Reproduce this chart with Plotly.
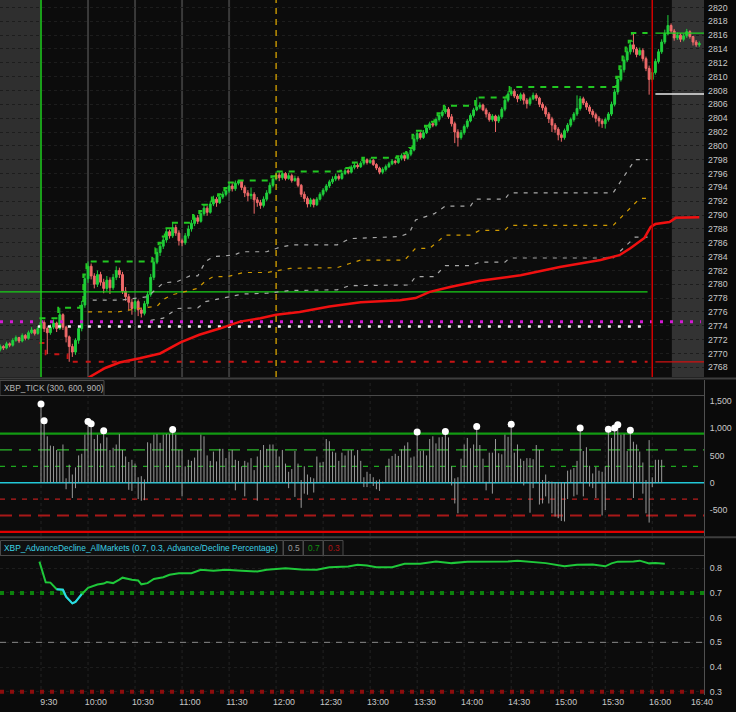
import plotly.graph_objects as go

# ---------------- canvas geometry ----------------
W, HT = 736, 712
PB = 17                      # bottom margin (time labels)
PH = HT - PB                 # plot-area height in px
XR = 704                     # right edge of plotting area (px)
OPEN_PX = 41.0               # pixel of 9:30
PX_PER_MIN = 47.02 / 30.0

def fx(p):
    return p / W

def fy(p):
    return (PH - p) / PH

X0 = (0 - OPEN_PX) / PX_PER_MIN
X1 = (XR - OPEN_PX) / PX_PER_MIN

# ---------------- data ----------------
# 2-minute bars, index 0 = 9:30 bar (negative = pre-market)
bar_i = list(range(-13, 211))

O = [2770.6, 2771.0, 2770.8, 2771.4, 2771.2, 2771.9, 2772.3, 2771.8, 2772.6, 2772.2, 2773.0, 2773.4, 2772.9,
     2773.6, 2774.5, 2773.6, 2773.0, 2773.8, 2774.4, 2773.6, 2775.6, 2773.8, 2772.4,
     2771.0, 2770.2, 2771.9, 2773.6, 2777.0, 2780.8, 2782.6, 2781.2, 2780.0, 2781.4,
     2780.3, 2779.4, 2780.6, 2779.5, 2781.0, 2782.0, 2781.4, 2779.0, 2778.2, 2777.4,
     2776.5, 2777.5, 2776.3, 2775.8, 2777.2, 2778.5, 2781.0, 2783.2, 2784.6, 2785.5,
     2786.4, 2787.6, 2787.0, 2788.2, 2787.4, 2786.3, 2786.0, 2787.0, 2788.0, 2788.8,
     2789.6, 2789.1, 2790.2, 2791.0, 2790.4, 2791.6, 2792.3, 2791.8, 2792.6, 2793.0,
     2793.5, 2794.2, 2793.8, 2794.6, 2794.9, 2794.0, 2793.2, 2792.8, 2793.0, 2792.2,
     2791.8, 2791.4, 2792.3, 2793.2, 2794.3, 2795.2, 2795.8, 2795.4, 2796.0, 2795.3,
     2795.7, 2795.0, 2795.3, 2794.3, 2793.0, 2792.4, 2791.6, 2792.2, 2791.5, 2792.3,
     2793.0, 2793.6, 2794.2, 2794.8, 2795.2, 2795.6, 2795.3, 2796.0, 2796.4, 2796.2,
     2796.9, 2797.2, 2797.0, 2797.5, 2798.0, 2797.6, 2797.9, 2797.3, 2796.8, 2796.2,
     2796.6, 2797.0, 2797.4, 2797.8, 2797.6, 2798.2, 2798.6, 2798.2, 2798.8, 2799.4,
     2801.0, 2801.8, 2801.2, 2801.9, 2802.6, 2803.2, 2803.0, 2803.8, 2804.4, 2804.9,
     2805.3, 2804.2, 2803.2, 2802.0, 2801.2, 2801.9, 2802.8, 2803.6, 2804.4, 2805.2,
     2805.6, 2805.9, 2805.2, 2804.6, 2803.8, 2804.3, 2803.6, 2804.2, 2805.3, 2806.6,
     2807.5, 2807.9, 2807.2, 2806.8, 2807.4, 2806.6, 2806.1, 2806.8, 2807.3, 2806.9,
     2806.0, 2805.5, 2804.6, 2803.9, 2803.0, 2802.4, 2801.6, 2801.2, 2802.2, 2803.0,
     2803.8, 2804.6, 2805.4, 2806.8, 2806.2, 2805.6, 2805.0, 2804.5, 2804.0, 2803.6,
     2803.2, 2803.8, 2804.6, 2806.0, 2807.8, 2809.6, 2811.0, 2812.4, 2813.6, 2814.6,
     2814.0, 2813.2, 2813.8, 2812.6, 2811.2, 2809.6, 2810.6, 2812.2, 2813.6, 2815.0,
     2816.2, 2817.4, 2816.6, 2815.6, 2816.0, 2815.4, 2815.9, 2816.5, 2815.8, 2815.0, 2814.6]

H = [2771.3, 2771.2, 2771.7, 2771.6, 2772.2, 2772.6, 2772.4, 2772.9, 2772.8, 2773.3, 2773.8, 2773.5, 2774.0,
     2775.1, 2774.8, 2773.9, 2774.2, 2774.9, 2774.6, 2776.6, 2775.8, 2774.0, 2772.6,
     2771.4, 2772.2, 2774.0, 2777.6, 2781.4, 2783.3, 2783.0, 2781.6, 2782.0, 2781.8,
     2780.8, 2781.2, 2781.0, 2781.5, 2782.6, 2782.4, 2781.8, 2779.6, 2778.6, 2777.9,
     2778.0, 2777.8, 2776.6, 2777.6, 2779.0, 2781.5, 2783.8, 2785.2, 2786.0, 2786.9,
     2788.1, 2787.9, 2788.9, 2788.6, 2787.8, 2786.6, 2787.4, 2788.5, 2789.3, 2790.0,
     2790.0, 2790.6, 2791.5, 2791.3, 2792.0, 2792.8, 2792.6, 2793.0, 2793.4, 2793.9,
     2794.7, 2794.6, 2795.0, 2795.0, 2794.9, 2794.3, 2793.6, 2794.0, 2793.3, 2792.6,
     2792.2, 2792.7, 2793.6, 2794.7, 2795.6, 2796.3, 2796.2, 2796.2, 2796.2, 2796.1,
     2796.0, 2795.7, 2795.6, 2794.5, 2793.4, 2792.7, 2792.5, 2792.4, 2792.6, 2793.3,
     2793.9, 2794.5, 2795.1, 2795.6, 2796.0, 2795.9, 2796.4, 2796.8, 2796.7, 2797.2,
     2797.6, 2797.5, 2797.8, 2798.3, 2798.2, 2798.2, 2798.1, 2797.5, 2797.0, 2796.9,
     2797.3, 2797.7, 2798.1, 2798.0, 2798.5, 2798.9, 2798.8, 2799.1, 2799.7, 2801.6,
     2802.2, 2802.1, 2802.3, 2802.9, 2803.5, 2803.5, 2804.1, 2804.7, 2805.2, 2805.8,
     2805.6, 2804.6, 2803.5, 2802.4, 2802.3, 2803.1, 2803.9, 2804.7, 2805.5, 2807.0,
     2806.3, 2806.1, 2805.5, 2804.9, 2804.6, 2804.5, 2804.5, 2805.6, 2806.9, 2807.9,
     2808.5, 2808.2, 2807.5, 2807.7, 2807.7, 2806.9, 2807.1, 2807.7, 2807.6, 2807.1,
     2806.3, 2805.8, 2804.9, 2804.2, 2803.3, 2802.7, 2801.9, 2802.5, 2803.3, 2804.1,
     2804.9, 2807.3, 2807.2, 2807.1, 2806.5, 2805.9, 2805.3, 2804.8, 2804.3, 2803.9,
     2804.1, 2804.9, 2806.4, 2808.2, 2810.0, 2811.5, 2812.9, 2814.2, 2815.2, 2816.3,
     2814.3, 2814.2, 2814.1, 2812.9, 2811.6, 2811.0, 2812.6, 2814.0, 2815.4, 2816.8,
     2818.9, 2817.7, 2816.9, 2816.4, 2816.3, 2816.2, 2816.9, 2816.7, 2815.9, 2815.3, 2815.1]

L = [2770.3, 2770.5, 2770.6, 2770.9, 2771.0, 2771.7, 2771.5, 2771.6, 2771.9, 2772.0, 2772.8, 2772.6, 2772.7,
     2771.5, 2773.1, 2769.9, 2772.7, 2773.5, 2773.1, 2773.4, 2773.4, 2771.6, 2768.8,
     2769.5, 2769.8, 2771.4, 2773.2, 2776.6, 2780.2, 2780.7, 2779.4, 2779.6, 2779.8,
     2778.7, 2779.0, 2778.6, 2779.2, 2780.6, 2780.9, 2778.6, 2777.6, 2776.2, 2775.6,
     2776.0, 2775.4, 2775.2, 2775.5, 2776.8, 2778.2, 2780.6, 2782.9, 2784.1, 2785.1,
     2786.0, 2786.6, 2786.7, 2787.0, 2785.6, 2785.5, 2785.7, 2786.6, 2787.6, 2788.4,
     2788.7, 2788.9, 2789.9, 2789.9, 2790.2, 2791.3, 2791.2, 2791.6, 2792.3, 2792.7,
     2793.2, 2793.4, 2793.5, 2794.3, 2793.6, 2792.6, 2792.0, 2792.3, 2790.2, 2791.2,
     2790.9, 2791.1, 2792.0, 2793.0, 2794.0, 2795.0, 2794.9, 2795.1, 2795.0, 2795.1,
     2794.7, 2794.8, 2794.0, 2792.6, 2791.9, 2791.1, 2791.2, 2791.1, 2791.3, 2792.1,
     2792.7, 2793.3, 2793.9, 2794.5, 2794.9, 2795.0, 2795.1, 2795.8, 2795.9, 2796.0,
     2796.6, 2796.7, 2796.8, 2797.2, 2797.3, 2797.4, 2797.1, 2796.5, 2795.9, 2795.9,
     2796.3, 2796.8, 2797.2, 2797.3, 2797.4, 2797.9, 2797.8, 2798.0, 2798.5, 2799.2,
     2800.6, 2800.9, 2801.0, 2801.7, 2802.3, 2802.7, 2802.8, 2803.5, 2804.1, 2804.6,
     2803.9, 2802.8, 2800.4, 2799.9, 2800.9, 2801.6, 2802.5, 2803.4, 2804.1, 2805.0,
     2805.3, 2805.0, 2804.1, 2803.5, 2803.5, 2802.0, 2803.3, 2803.9, 2805.0, 2806.3,
     2807.2, 2806.9, 2806.3, 2806.5, 2806.0, 2805.4, 2805.8, 2806.6, 2806.5, 2805.6,
     2805.1, 2804.2, 2803.3, 2802.0, 2801.9, 2800.8, 2800.6, 2800.9, 2801.9, 2802.7,
     2803.5, 2804.3, 2805.1, 2805.9, 2805.2, 2804.6, 2804.1, 2803.4, 2802.8, 2802.6,
     2802.5, 2803.5, 2804.3, 2805.7, 2807.4, 2809.3, 2810.6, 2812.1, 2813.2, 2813.5,
     2812.8, 2813.0, 2812.2, 2810.8, 2807.4, 2809.2, 2810.3, 2811.9, 2813.3, 2814.7,
     2816.0, 2816.3, 2815.2, 2815.3, 2815.0, 2815.1, 2815.6, 2815.5, 2814.5, 2814.3, 2814.3]

C = [2771.0, 2770.8, 2771.4, 2771.2, 2771.9, 2772.3, 2771.8, 2772.6, 2772.2, 2773.0, 2773.4, 2772.9, 2773.6,
     2774.5, 2773.6, 2773.0, 2773.8, 2774.4, 2773.6, 2775.6, 2773.8, 2772.4, 2771.0,
     2770.2, 2771.9, 2773.6, 2777.0, 2780.8, 2782.6, 2781.2, 2780.0, 2781.4, 2780.3,
     2779.4, 2780.6, 2779.5, 2781.0, 2782.0, 2781.4, 2779.0, 2778.2, 2777.4, 2776.5,
     2777.5, 2776.3, 2775.8, 2777.2, 2778.5, 2781.0, 2783.2, 2784.6, 2785.5, 2786.4,
     2787.6, 2787.0, 2788.2, 2787.4, 2786.3, 2786.0, 2787.0, 2788.0, 2788.8, 2789.6,
     2789.1, 2790.2, 2791.0, 2790.4, 2791.6, 2792.3, 2791.8, 2792.6, 2793.0, 2793.5,
     2794.2, 2793.8, 2794.6, 2794.9, 2794.0, 2793.2, 2792.8, 2793.0, 2792.2, 2791.8,
     2791.4, 2792.3, 2793.2, 2794.3, 2795.2, 2795.8, 2795.4, 2796.0, 2795.3, 2795.7,
     2795.0, 2795.3, 2794.3, 2793.0, 2792.4, 2791.6, 2792.2, 2791.5, 2792.3, 2793.0,
     2793.6, 2794.2, 2794.8, 2795.2, 2795.6, 2795.3, 2796.0, 2796.4, 2796.2, 2796.9,
     2797.2, 2797.0, 2797.5, 2798.0, 2797.6, 2797.9, 2797.3, 2796.8, 2796.2, 2796.6,
     2797.0, 2797.4, 2797.8, 2797.6, 2798.2, 2798.6, 2798.2, 2798.8, 2799.4, 2801.0,
     2801.8, 2801.2, 2801.9, 2802.6, 2803.2, 2803.0, 2803.8, 2804.4, 2804.9, 2805.3,
     2804.2, 2803.2, 2802.0, 2801.2, 2801.9, 2802.8, 2803.6, 2804.4, 2805.2, 2805.6,
     2805.9, 2805.2, 2804.6, 2803.8, 2804.3, 2803.6, 2804.2, 2805.3, 2806.6, 2807.5,
     2807.9, 2807.2, 2806.8, 2807.4, 2806.6, 2806.1, 2806.8, 2807.3, 2806.9, 2806.0,
     2805.5, 2804.6, 2803.9, 2803.0, 2802.4, 2801.6, 2801.2, 2802.2, 2803.0, 2803.8,
     2804.6, 2805.4, 2806.8, 2806.2, 2805.6, 2805.0, 2804.5, 2804.0, 2803.6, 2803.2,
     2803.8, 2804.6, 2806.0, 2807.8, 2809.6, 2811.0, 2812.4, 2813.6, 2814.6, 2814.0,
     2813.2, 2813.8, 2812.6, 2811.2, 2809.6, 2810.6, 2812.2, 2813.6, 2815.0, 2816.2,
     2817.4, 2816.6, 2815.6, 2816.0, 2815.4, 2815.9, 2816.5, 2815.8, 2815.0, 2814.6, 2814.8]

# VWAP (minutes after 9:30, price)
vwap_t = [28, 31, 41, 50, 63, 76, 89, 101, 114, 127, 140, 150, 165, 184, 204, 229, 239, 248, 261,
          280, 306, 331, 357, 369, 376, 385, 389, 392, 401, 405, 420]
vwap_v = [2766.0, 2766.6, 2767.9, 2768.7, 2769.3, 2770.0, 2771.6, 2772.7, 2773.6, 2774.6, 2775.1,
          2775.6, 2776.0, 2776.8, 2777.4, 2777.7, 2778.0, 2778.9, 2779.6, 2780.5, 2781.3, 2782.5,
          2783.5, 2784.2, 2785.2, 2786.7, 2788.3, 2788.7, 2789.0, 2789.6, 2789.7]

# VWAP deviation bands (step breakpoints)
band_up_t = [33, 50, 68, 78, 87, 95, 100, 105, 110, 123, 128, 144, 153, 161, 189, 197, 229, 235, 239,
             245, 251, 258, 274, 277, 296, 299, 365, 379, 387]
band_up_v = [2777.7, 2777.7, 2778.2, 2780.2, 2780.4, 2781.2, 2781.2, 2783.3, 2784.0, 2784.2, 2784.7,
             2784.7, 2785.4, 2785.7, 2785.7, 2786.6, 2786.9, 2787.4, 2789.3, 2789.8, 2790.2, 2791.3,
             2791.3, 2792.3, 2792.3, 2793.2, 2793.2, 2798.0, 2798.0]
band_mid_t = [30, 49, 65, 74, 78, 84, 100, 105, 110, 119, 129, 144, 159, 189, 197, 204, 232, 239, 248,
              258, 274, 280, 296, 299, 365, 382, 387]
band_mid_v = [2776.0, 2776.0, 2776.6, 2776.8, 2777.8, 2778.5, 2779.4, 2780.5, 2781.1, 2781.1, 2781.7,
              2781.7, 2782.3, 2782.4, 2783.0, 2783.5, 2783.5, 2785.2, 2785.2, 2787.1, 2787.1, 2787.8,
              2787.8, 2788.5, 2788.5, 2792.4, 2792.4]
band_lo_t = [70, 78, 87, 100, 105, 119, 129, 144, 159, 189, 197, 235, 239, 251, 258, 274, 280, 296, 299,
             365, 379, 387]
band_lo_v = [2774.8, 2775.1, 2776.5, 2776.6, 2777.5, 2778.2, 2778.6, 2778.7, 2779.1, 2779.2, 2779.8,
             2779.9, 2781.1, 2781.1, 2782.7, 2782.7, 2783.2, 2783.2, 2783.8, 2783.8, 2786.8, 2786.8]

# reference levels
level_green = 2778.9
level_magenta = 2774.6
level_white = 2773.9
post_white = 2807.5
last_rth_bar = 193

# NYSE TICK per 2-min bar (high, low)
tick_hi = [1440, 1135, 850, 680, 670, 600, 570, 700, 80, 330,
           150, 280, 500, 530, 880, 1120, 1080, 800, 880, 720,
           950, 830, 600, 640, 700, 890, 600, 480, 380, 420,
           350, 100, 120, 60, 740, 720, 880, 890, 730, 880,
           890, 890, 975, 880, 600, 600, 300, 420, 400, 460,
           600, 880, 850, 500, 400, 570, 390, 620, 620, 450,
           570, 600, 420, 400, 300, 400, 370, 450, 230, 480,
           600, 690, 620, 700, 700, 600, 480, 600, 350, 200,
           250, 580, 350, 50, 300, 150, 100, 80, 480, 370,
           380, 800, 760, 570, 550, 400, 550, 500, 590, 600,
           500, 600, 400, 100,
           200, 160, 100, 40, 60, 20, 300, 440, 490, 530,
           490, 610, 680, 740, 460, 480, 930, 580, 590, 500,
           800, 850, 720, 830, 840, 940, 830, 300, 80, 100,
           440, 700, 820, 630, 700, 1030, 690, 440, 20, 550,
           550, 800, 540, 520, 880, 840, 1070, 550, 700, 440,
           400, 450, 450, 430, 690, 600, 50, 150, 30, 20,
           10, 10, 10, 10, 220, 240, 270, 400, 1000, 580,
           650, 310, 170, 290, 220, 200, 300, 980, 820, 1000,
           1060, 880, 890, 580, 960, 750, 700, 570, 370, 50,
           780, 100, 420, 420, 420]
tick_lo = [0, 0, 0, 0, 0, 0, 0, 0, -120, 0,
           -280, -100, 0, 0, 0, 0, 0, 0, 0, 0,
           0, 0, 0, 0, 0, 0, 0, 0, -130, -150,
           0, -300, -330, -320, 0, 0, 0, 0, 0, 0,
           0, 0, 0, 0, 0, -250, 0, 0, 0, 0,
           0, 0, 0, 0, 0, 0, 0, 0, 0, 0,
           0, 0, -140, 0, 0, -250, 0, 0, 0, -330,
           0, 0, 0, 0, 0, 0, 0, 0, 0, -100,
           0, -260, 0, -460, -200, -220, 0, -180, 0, 0,
           0, 0, 0, 0, 0, 0, 0, 0, 0, 0,
           0, 0, 0, -80,
           -80, 0, -60, -120, -150, -10, 0, 0, 0, 0,
           0, 0, 0, 0, 0, 0, 0, 0, 0, 0,
           0, 0, 0, 0, 0, 0, 0, -50, -380, -560,
           0, 0, 0, 0, 0, 0, 0, 0, -140, 0,
           -200, 0, 0, 0, 0, 0, 0, 0, 0, 0,
           -50, 0, -550, -100, 0, -400, -380, -250, -380, -560,
           -620, -650, -700, -710, -300, 0, -250, -220, 0, -250,
           0, -70, -100, -280, 0, -600, -500, 0, 0, 0,
           0, 0, 0, 0, 0, -280, 0, 0, -200, -560,
           -730, -80, 0, 0, 0]
tick_levels = [900, 600, 300, 0, -300, -600, -900]
tick_extreme = 900

# Advance / Decline percentage (minutes after 9:30)
ad_t = [-1, 3, 6, 10, 14, 16, 20, 22, 26, 30, 36, 40, 42, 46, 50, 52, 58, 62, 64, 68,
        72, 78, 82, 88, 96, 102, 110, 118, 128, 138, 144, 156, 166, 176, 184, 196, 202, 208, 214, 224,
        232, 242, 252, 262, 272, 288, 298, 304, 312, 322, 334, 342, 352, 360, 364, 368, 378, 382, 388, 392,
        398]
ad_v = [0.827, 0.743, 0.742, 0.715, 0.713, 0.685, 0.658, 0.664, 0.695, 0.721,
        0.734, 0.738, 0.744, 0.740, 0.754, 0.762, 0.754, 0.751, 0.735, 0.740,
        0.757, 0.764, 0.774, 0.780, 0.780, 0.794, 0.790, 0.794, 0.790, 0.787,
        0.794, 0.800, 0.795, 0.794, 0.804, 0.807, 0.814, 0.811, 0.804, 0.804,
        0.818, 0.818, 0.828, 0.821, 0.827, 0.827, 0.828, 0.831, 0.827, 0.821,
        0.808, 0.814, 0.815, 0.808, 0.820, 0.827, 0.828, 0.831, 0.820, 0.821,
        0.818]
ad_levels = [0.7, 0.5, 0.3]
ad_cyan_below = 0.72

time_labels = ["9:30", "10:00", "10:30", "11:00", "11:30", "12:00", "12:30", "13:00",
               "13:30", "14:00", "14:30", "15:00", "15:30", "16:00", "16:40"]
price_ticks = list(range(2768, 2821, 2))
tick_axis_vals = [-500, 0, 500, 1000, 1500]
tick_axis_text = ["-500", "0", "500", "1,000", "1,500"]
ad_axis_vals = [0.3, 0.4, 0.5, 0.6, 0.7, 0.8]

# ---------------- colours ----------------
BG = "#0c0c0c"
UP = "#1fd03c"
DN = "#f06a6a"
LBL = "#c8c8c8"
FONT = "Liberation Sans"
AXF = 8.8
HDF = 8.4

def tmin(label):
    h, m = label.split(":")
    return int(h) * 60 + int(m) - 570

bar_t = [2 * i for i in bar_i]

fig = go.Figure()

# ---------------- price panel ----------------
fig.add_trace(go.Candlestick(
    x=bar_t, open=O, high=H, low=L, close=C, xaxis="x", yaxis="y",
    increasing=dict(line=dict(color=UP, width=1), fillcolor=UP),
    decreasing=dict(line=dict(color=DN, width=1), fillcolor=DN),
    whiskerwidth=0, showlegend=False, hoverinfo="skip"))

def pline(x, y, color, width, dash="solid", shape="linear", ax="x", ay="y"):
    fig.add_trace(go.Scatter(x=x, y=y, mode="lines", xaxis=ax, yaxis=ay,
                             line=dict(color=color, width=width, dash=dash, shape=shape),
                             showlegend=False, hoverinfo="skip"))

end_rth = 2 * last_rth_bar + 1
pline([X0, end_rth], [level_green] * 2, "#19d019", 1.3)
pline([X0, X1 - 2], [level_magenta] * 2, "#d419d4", 3, "3px,7px")
pline([-2, end_rth], [level_white] * 2, "#f2f2f2", 2.5, "3px,7px")

pline(band_up_t, band_up_v, "#a8a8a8", 1.2, "4px,6px")
pline(band_mid_t, band_mid_v, "#d09a00", 1.2, "4px,6px")
pline(band_lo_t, band_lo_v, "#a8a8a8", 1.2, "4px,6px")
pline(vwap_t, vwap_v, "#f01010", 2.5)

# running high / low of the regular session
rth = [k for k, i in enumerate(bar_i) if 0 <= i <= last_rth_bar]
hod, lod, hx = [], [], []
for k in rth:
    hod.append(H[k] if not hod else max(hod[-1], H[k]))
    lod.append(L[k] if not lod else min(lod[-1], L[k]))
    hx.append(bar_t[k] - 1)
hx.append(end_rth)
hod.append(hod[-1])
lod.append(lod[-1])
pline(hx, hod, "#22c822", 2, "6px,6px", "hv")
pline(hx, lod, "#c81414", 2, "5px,8px", "hv")

post_x = [392, X1]
pline(post_x, [hod[-1]] * 2, "#22d022", 1.2)
pline(post_x, [post_white] * 2, "#e8e8e8", 1.5)
pline(post_x, [lod[-1]] * 2, "#d01010", 1.2)

# ---------------- tick panel ----------------
for lv in tick_levels:
    if lv > 0:
        col = "#129a12" if lv == 900 else ("#2ab82a" if lv == 600 else "#1ea81e")
    elif lv == 0:
        col = "#22c8d8"
    else:
        col = "#e00000" if lv == -900 else ("#a81818" if lv == -600 else "#b81c1c")
    dash = "solid" if abs(lv) in (900, 0) else ("12px,7px" if abs(lv) == 600 else "5px,6px")
    wid = 2.2 if abs(lv) == 900 else (1.6 if lv == 0 else (2 if lv == -600 else 1.3))
    pline([X0, X1], [lv, lv], col, wid, dash, ax="x2", ay="y2")

tx, ty = [], []
for i, (hi, lo) in enumerate(zip(tick_hi, tick_lo)):
    t = 2 * i
    tx += [t, t, None]
    ty += [min(lo, 0), max(hi, 0), None]
fig.add_trace(go.Scatter(x=tx, y=ty, mode="lines", xaxis="x2", yaxis="y2",
                         line=dict(color="#9a9a9a", width=1), showlegend=False, hoverinfo="skip"))
dx = [2 * i for i, hi in enumerate(tick_hi) if hi > tick_extreme]
dy = [hi for hi in tick_hi if hi > tick_extreme]
fig.add_trace(go.Scatter(x=dx, y=dy, mode="markers", xaxis="x2", yaxis="y2",
                         marker=dict(color="#ffffff", size=7, line=dict(width=0)),
                         showlegend=False, hoverinfo="skip"))

# ---------------- A/D panel ----------------
pline([X0, X1], [ad_levels[0]] * 2, "#0c820c", 4, "4px,6px", ax="x3", ay="y3")
pline([X0, X1], [ad_levels[1]] * 2, "#8a8a8a", 1, "6px,6px", ax="x3", ay="y3")
pline([X0, X1], [ad_levels[2]] * 2, "#8c0c0c", 4, "4px,6px", ax="x3", ay="y3")
pline(ad_t, ad_v, "#1fc83a", 2, ax="x3", ay="y3")
cy = [v if v < ad_cyan_below else None for v in ad_v]
pline(ad_t, cy, "#2ad6ea", 2, ax="x3", ay="y3")

# ---------------- axes ----------------
tick_pos = [min(tmin(s) + 5, X1 - 1.3) for s in time_labels]
xcommon = dict(range=[X0, X1], domain=[0, fx(XR)], showgrid=False, zeroline=False,
               showticklabels=False, ticks="", fixedrange=True)
ycommon = dict(side="right", showgrid=True, gridcolor="#1d1d1d", griddash="dot", gridwidth=1,
               zeroline=False, ticks="", tickfont=dict(family=FONT, size=AXF, color=LBL),
               ticklabelstandoff=3, fixedrange=True)

layout = dict(
    width=W, height=HT, margin=dict(l=0, r=0, t=0, b=PB, autoexpand=False),
    paper_bgcolor="#0a0a0a", plot_bgcolor=BG, showlegend=False, boxgap=0.15,
    font=dict(family=FONT, size=AXF, color=LBL),
    xaxis=dict(xcommon, anchor="y", rangeslider=dict(visible=False)),
    xaxis2=dict(xcommon, anchor="y2", matches="x"),
    xaxis3=dict(xcommon, anchor="y3", matches="x", showticklabels=True,
                tickvals=tick_pos, ticktext=time_labels,
                tickfont=dict(family=FONT, size=AXF, color=LBL)),
    yaxis=dict(ycommon, domain=[fy(377), 1], range=[2766.6, 2821.08], anchor="x",
               tickvals=price_ticks, ticktext=[str(v) for v in price_ticks]),
    yaxis2=dict(ycommon, domain=[fy(536), fy(380)], range=[-976, 1881], anchor="x2",
                tickvals=tick_axis_vals, ticktext=tick_axis_text, showgrid=False,
                showline=True, linecolor="#505050", linewidth=1),
    yaxis3=dict(ycommon, domain=[0, fy(538)], range=[0.2866, 0.9228], anchor="x3",
                tickvals=ad_axis_vals, ticktext=[f"{v:.1f}" for v in ad_axis_vals],
                showline=True, linecolor="#505050", linewidth=1),
)
fig.update_layout(**layout)

shapes = []
# pre / post market shading (price panel)
shapes.append(dict(type="rect", xref="x", yref="y domain", x0=X0, x1=-0.6, y0=0, y1=1,
                   fillcolor="#2f2f2f", line=dict(width=0), layer="below"))
shapes.append(dict(type="rect", xref="x", yref="y domain", x0=402.5, x1=X1, y0=0, y1=1,
                   fillcolor="#333333", line=dict(width=0), layer="below"))
# faint time grid in lower panels
for s in time_labels[:-1]:
    for ax, ay in (("x2", "y2 domain"), ("x3", "y3 domain")):
        shapes.append(dict(type="line", xref=ax, yref=ay, x0=tmin(s), x1=tmin(s), y0=0, y1=1,
                           line=dict(color="#232323", width=1, dash="dot"), layer="below"))
# session markers (price panel)
for s in ["10:00", "10:30", "11:00", "11:30"]:
    shapes.append(dict(type="line", xref="x", yref="y domain", x0=tmin(s), x1=tmin(s), y0=0, y1=1,
                       line=dict(color="#3a3a3a", width=2), layer="below"))
shapes.append(dict(type="line", xref="x", yref="y domain", x0=0, x1=0, y0=0, y1=1,
                   line=dict(color="#1fd01f", width=1.5)))
shapes.append(dict(type="line", xref="x", yref="y domain", x0=tmin("12:00"), x1=tmin("12:00"), y0=0, y1=1,
                   line=dict(color="#d8a400", width=1.3, dash="6px,5px")))
shapes.append(dict(type="line", xref="x", yref="y domain", x0=tmin("16:00"), x1=tmin("16:00"), y0=0, y1=1,
                   line=dict(color="#d00000", width=1.5)))
# panel separators
for yp in (378.5, 537.2):
    shapes.append(dict(type="line", xref="paper", yref="paper", x0=0, x1=1, y0=fy(yp), y1=fy(yp),
                       line=dict(color="#3e3e3e", width=2)))
# header strips
shapes.append(dict(type="line", xref="paper", yref="paper", x0=0, x1=fx(XR), y0=fy(395.5), y1=fy(395.5),
                   line=dict(color="#4a4a4a", width=1)))
shapes.append(dict(type="rect", xref="paper", yref="paper", x0=0, x1=fx(104), y0=fy(395.5), y1=fy(380.5),
                   line=dict(color="#4a4a4a", width=1), fillcolor="#101010"))
shapes.append(dict(type="line", xref="paper", yref="paper", x0=0, x1=fx(XR), y0=fy(555.5), y1=fy(555.5),
                   line=dict(color="#4a4a4a", width=1)))
for a, b in ((0, 283), (283, 303), (303, 323), (323, 343)):
    shapes.append(dict(type="rect", xref="paper", yref="paper", x0=fx(a + 0.5), x1=fx(b), y0=fy(555.5),
                       y1=fy(540.5), line=dict(color="#4a4a4a", width=1), fillcolor="#101010"))
fig.update_layout(shapes=shapes)

ann = [
    dict(text="XBP_TICK (300, 600, 900)", x=fx(2), y=fy(388), color="#b8b8b8"),
    dict(text="XBP_AdvanceDecline_AllMarkets (0.7, 0.3, Advance/Decline Percentage)", x=fx(2), y=fy(548),
         color="#3cd2e6"),
    dict(text="0.5", x=fx(286), y=fy(548), color="#9a9a9a"),
    dict(text="0.7", x=fx(306), y=fy(548), color="#109010"),
    dict(text="0.3", x=fx(326), y=fy(548), color="#a81414"),
]
fig.update_layout(annotations=[
    dict(text=a["text"], x=a["x"], y=a["y"], xref="paper", yref="paper", xanchor="left", yanchor="middle",
         showarrow=False, font=dict(family=FONT, size=HDF, color=a["color"])) for a in ann])

fig.write_html("out.html", config={"displayModeBar": False, "staticPlot": True},
               post_script="document.body.style.margin='0';document.body.style.background='#0a0a0a';")
